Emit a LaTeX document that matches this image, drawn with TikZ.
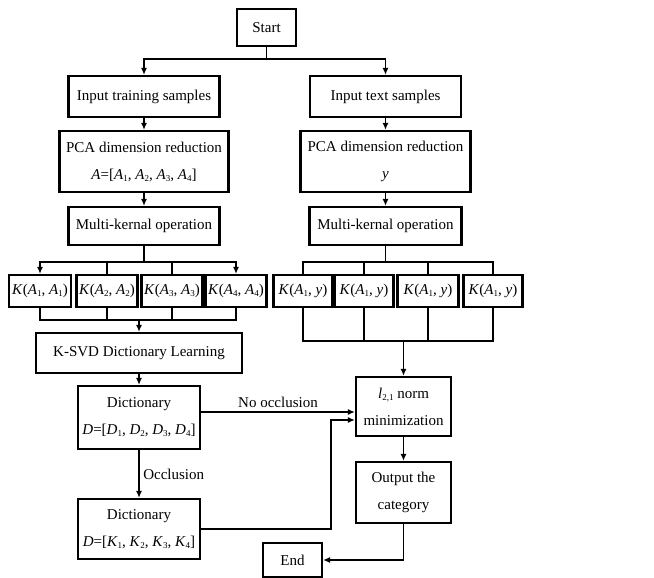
\documentclass[tikz,border=0pt]{standalone}
\usepackage{fontspec}
\setmainfont{Liberation Serif}
\usetikzlibrary{arrows.meta}
% italic letter with a small upright subscript
\newcommand{\vsub}[2]{\textit{#1}\raisebox{-0.3ex}{\fontsize{9}{9}\selectfont #2}}

\begin{document}
\begin{tikzpicture}[x=1pt,y=-1pt,>={Latex[length=7pt,width=6pt]},line width=1.9pt,
  font=\fontsize{15}{27}\selectfont,
  box/.style={draw,line width=2.1pt,inner sep=0pt,align=center}]
\useasboundingbox (0,0) rectangle (654,578);

% left branch: training data
\node[box,minimum width=59pt,minimum height=37pt] (start) at (266.5,27.5) {Start};
\node[box,minimum width=151pt,minimum height=41pt] (train) at (144,96.5) {Input training samples};
\node[box,minimum width=169pt,minimum height=61pt] (pcaL) at (144,161.5) {PCA dimension reduction\\\textit{A}=[\vsub{A}{1}, \vsub{A}{2}, \vsub{A}{3}, \vsub{A}{4}]};
\node[box,minimum width=151pt,minimum height=38pt] (mkL) at (144,226) {Multi-kernal operation};
\node[box,minimum width=62pt,minimum height=32pt] (kA1) at (40,291) {\textit{K}(\vsub{A}{1}, \vsub{A}{1})};
\node[box,minimum width=61pt,minimum height=32pt] (kA2) at (107,291) {\textit{K}(\vsub{A}{2}, \vsub{A}{2})};
\node[box,minimum width=61pt,minimum height=32pt] (kA3) at (172,291) {\textit{K}(\vsub{A}{3}, \vsub{A}{3})};
\node[box,minimum width=61pt,minimum height=32pt] (kA4) at (236,291) {\textit{K}(\vsub{A}{4}, \vsub{A}{4})};
\node[box,minimum width=206pt,minimum height=40pt] (ksvd) at (139,353) {K-SVD Dictionary Learning};
\node[box,minimum width=122pt,minimum height=63pt] (dict1) at (139,417.5) {Dictionary\\\textit{D}=[\vsub{D}{1}, \vsub{D}{2}, \vsub{D}{3}, \vsub{D}{4}]};
\node[box,minimum width=122pt,minimum height=60pt] (dict2) at (139,529) {Dictionary\\\textit{D}=[\vsub{K}{1}, \vsub{K}{2}, \vsub{K}{3}, \vsub{K}{4}]};

% right branch: test data
\node[box,minimum width=151pt,minimum height=41pt] (test) at (385.5,96.5) {Input text samples};
\node[box,minimum width=170pt,minimum height=61pt] (pcaR) at (385.5,161.5) {PCA dimension reduction\\\textit{y}};
\node[box,minimum width=152pt,minimum height=38pt] (mkR) at (385.5,226) {Multi-kernal operation};
\node[box,minimum width=59pt,minimum height=32pt] (ky1) at (303,291) {\textit{K}(\vsub{A}{1}, \textit{y})};
\node[box,minimum width=59pt,minimum height=32pt] (ky2) at (364,291) {\textit{K}(\vsub{A}{1}, \textit{y})};
\node[box,minimum width=61pt,minimum height=32pt] (ky3) at (428,291) {\textit{K}(\vsub{A}{1}, \textit{y})};
\node[box,minimum width=59pt,minimum height=32pt] (ky4) at (493,291) {\textit{K}(\vsub{A}{1}, \textit{y})};
\node[box,minimum width=95pt,minimum height=59pt] (norm) at (403.5,406.5) {\vsub{l}{2,1} norm\\minimization};
\node[box,minimum width=95pt,minimum height=61pt] (out) at (403.5,492.5) {Output the\\category};
\node[box,minimum width=59pt,minimum height=34pt] (end) at (292.5,560) {End};

\coordinate (joinL) at (139,319);
\coordinate (joinR) at (403.5,340);
\coordinate (bend) at (331,420);

% connectors
\draw[->] (start.south) -- ++(0,12) -| (train.north);
\draw[->] (start.south) -- ++(0,12) -| (test.north);
\draw[->] (train.south) -- (pcaL.north);
\draw[->] (pcaL.south) -- (mkL.north);
\draw[->] (test.south) -- (pcaR.north);
\draw[->] (pcaR.south) -- (mkR.north);

\draw[->] (mkL.south) -- ++(0,16) -| (kA1.north);
\draw[->] (mkL.south) -- ++(0,16) -| (kA4.north);
\draw (mkL.south) ++(0,16) -| (kA2.north);
\draw (mkL.south) ++(0,16) -| (kA3.north);
\draw (kA1.south) -- ++(0,12) -| (kA4.south);
\draw (kA2.south) -- ++(0,12);
\draw (kA3.south) -- ++(0,12);
\draw[->] (joinL) -- (ksvd.north);
\draw[->] (ksvd.south) -- (dict1.north);

\draw (mkR.south) -- ++(0,16) -| (ky1.north);
\draw (mkR.south) -- ++(0,16) -| (ky4.north);
\draw (mkR.south) ++(0,16) -| (ky2.north);
\draw (mkR.south) ++(0,16) -| (ky3.north);
\draw (ky1.south) -- ++(0,33) -| (ky4.south);
\draw (ky2.south) -- ++(0,33);
\draw (ky3.south) -- ++(0,33);
\draw[->] (joinR) -- (norm.north);

\draw[->] (dict1.east |- 0,412) -- node[above]{No occlusion} (norm.west |- 0,412);
\draw[->] (dict1.south) -- node[right]{Occlusion} (dict2.north);
\draw[->] (dict2.east) -| (bend) -- (norm.west |- bend);
\draw[->] (norm.south) -- (out.north);
\draw[->] (out.south) |- (end.east);
\end{tikzpicture}
\end{document}
